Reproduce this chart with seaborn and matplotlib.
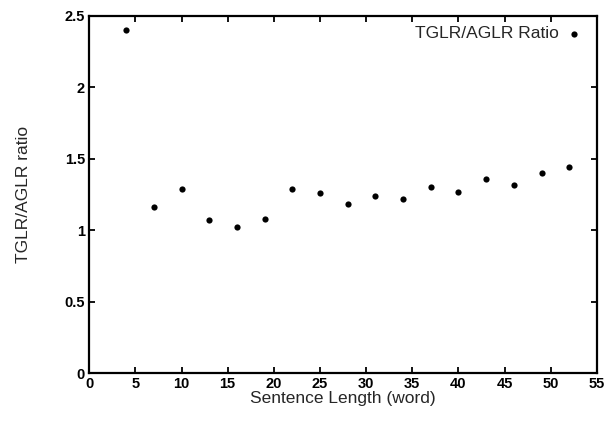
import pandas as pd
import matplotlib
matplotlib.use('Agg')
import matplotlib.pyplot as plt
import seaborn as sns

sns.set_style('white')
plt.rcParams['font.family'] = ['Liberation Sans', 'DejaVu Sans']

# sentence length (words) vs TGLR/AGLR ratio
sentence_len = [4, 7, 10, 13, 16, 19, 22, 25, 28, 31, 34, 37, 40, 43, 46, 49, 52]
ratio = [2.40, 1.16, 1.29, 1.07, 1.02, 1.08, 1.29, 1.26, 1.18, 1.24, 1.22,
         1.30, 1.27, 1.36, 1.32, 1.40, 1.44]
x_ticks = list(range(0, 56, 5))
y_ticks = [0, 0.5, 1, 1.5, 2, 2.5]

df = pd.DataFrame({'len': sentence_len, 'ratio': ratio})

fig = plt.figure(figsize=(6.11, 4.21), dpi=100)
ax = fig.add_axes([0.146, 0.114, 0.831, 0.848])

sns.scatterplot(data=df, x='len', y='ratio', ax=ax, color='black', s=20,
                edgecolor='black', linewidth=0, label='TGLR/AGLR Ratio')

ax.set_xlim(0, 55)
ax.set_ylim(0, 2.5)
ax.set_xticks(x_ticks)
ax.set_yticks(y_ticks)
ax.set_yticklabels(['0', '0.5', '1', '1.5', '2', '2.5'])
ax.tick_params(direction='in', length=4, width=1.3, top=True, right=True,
               bottom=True, left=True, labelsize=10.5, pad=3, colors='black')
for lbl in ax.get_xticklabels() + ax.get_yticklabels():
    lbl.set_fontweight('bold')
for sp in ax.spines.values():
    sp.set_color('black')
    sp.set_linewidth(1.6)

ax.set_xlabel('Sentence Length (word)', fontsize=12.5, labelpad=0)
ax.set_ylabel('TGLR/AGLR ratio', fontsize=12.5, labelpad=24)

ax.legend(loc='upper right', bbox_to_anchor=(1.0, 1.013), frameon=False,
          markerfirst=False, fontsize=12.5, handlelength=1.0,
          handletextpad=0.35, borderaxespad=0.45, markerscale=1.0)

fig.savefig('out.png', dpi=100)
